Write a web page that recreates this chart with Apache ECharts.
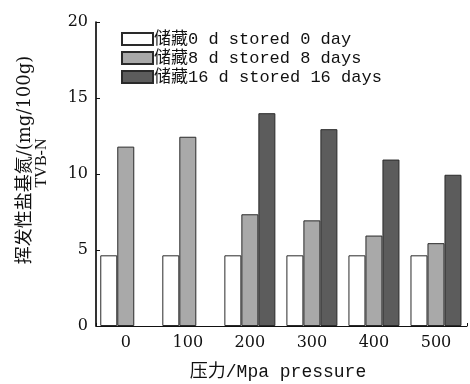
<!DOCTYPE html>
<html>
<head>
<meta charset="utf-8">
<script src="https://cdn.jsdelivr.net/npm/echarts@6/dist/echarts.min.js"></script>
<style>html,body{margin:0;padding:0;background:#fff}#c{width:470px;height:384px}</style>
</head>
<body>
<div id="c"></div>
<script>
var categories = ['0', '100', '200', '300', '400', '500'];
var seriesNames = ['储藏0 d stored 0 day', '储藏8 d stored 8 days', '储藏16 d stored 16 days'];
var day0 = [4.65, 4.65, 4.65, 4.65, 4.65, 4.65];
var day8 = [11.8, 12.45, 7.35, 6.95, 5.95, 5.45];
var day16 = [null, null, 14.0, 12.95, 10.95, 9.95];
var yTitle = '挥发性盐基氮/(mg/100g)';
var yTitle2 = 'TVB-N';
var xTitle = '压力/Mpa pressure';

var colors = ['#ffffff', '#a9a9a9', '#5c5c5c'];
var numFont = 'DejaVu Serif';
var txtFont = '"Liberation Mono", "Noto Sans CJK SC"';

function toPts(arr) {
  return arr.map(function (v, i) { return [i, v == null ? '-' : v]; });
}
var allData = [day0, day8, day16];

var chart = echarts.init(document.getElementById('c'));
chart.setOption({
  backgroundColor: '#ffffff',
  animation: false,
  grid: { left: 96, right: 0, top: 22, bottom: 58, containLabel: false },
  legend: {
    orient: 'vertical', left: 116, top: 25,
    itemWidth: 31, itemHeight: 12, itemGap: 1,
    icon: 'rect',
    textStyle: { fontFamily: txtFont, fontSize: 17, color: '#111', lineHeight: 18, padding: [0, 0, 0, -4] },
    data: seriesNames
  },
  xAxis: {
    type: 'value', min: -0.48, max: 5.5, splitNumber: 6,
    splitLine: { show: false },
    axisLine: { show: true, onZero: true, lineStyle: { color: '#111', width: 1 } },
    axisTick: { show: true, inside: true, length: 3, lineStyle: { color: '#111' } },
    axisLabel: {
      margin: 9, fontFamily: numFont, fontSize: 16, color: '#111',
      formatter: function (v) { return Number.isInteger(v) && categories[v] != null ? categories[v] : ''; }
    }
  },
  yAxis: {
    type: 'value', min: 0, max: 20, interval: 5, position: 'left',
    splitLine: { show: false },
    axisLine: { show: true, onZero: false, lineStyle: { color: '#000', width: 1.6 } },
    axisTick: { show: true, inside: true, length: 4, lineStyle: { color: '#111' } },
    axisLabel: { margin: 8, fontFamily: numFont, fontSize: 16, color: '#111' }
  },
  series: seriesNames.map(function (n, k) {
    return {
      name: n, type: 'bar', barWidth: 17, barGap: '0%',
      itemStyle: { color: colors[k], borderColor: '#2a2a2a', borderWidth: 1 },
      data: toPts(allData[k])
    };
  }),
  graphic: [
    { type: 'text', x: 25, y: 160, rotation: Math.PI / 2,
      style: { text: yTitle, fontFamily: '"DejaVu Serif", "Noto Sans CJK SC"', fontSize: 18, fill: '#111', align: 'center', verticalAlign: 'middle' } },
    { type: 'text', x: 42, y: 163, rotation: Math.PI / 2,
      style: { text: yTitle2, fontFamily: 'Liberation Serif', fontSize: 16, fill: '#111', align: 'center', verticalAlign: 'middle' } },
    { type: 'text', x: 278, y: 372,
      style: { text: xTitle, fontFamily: txtFont, fontSize: 18, fill: '#111', align: 'center', verticalAlign: 'middle' } }
  ]
});
</script>
</body>
</html>
